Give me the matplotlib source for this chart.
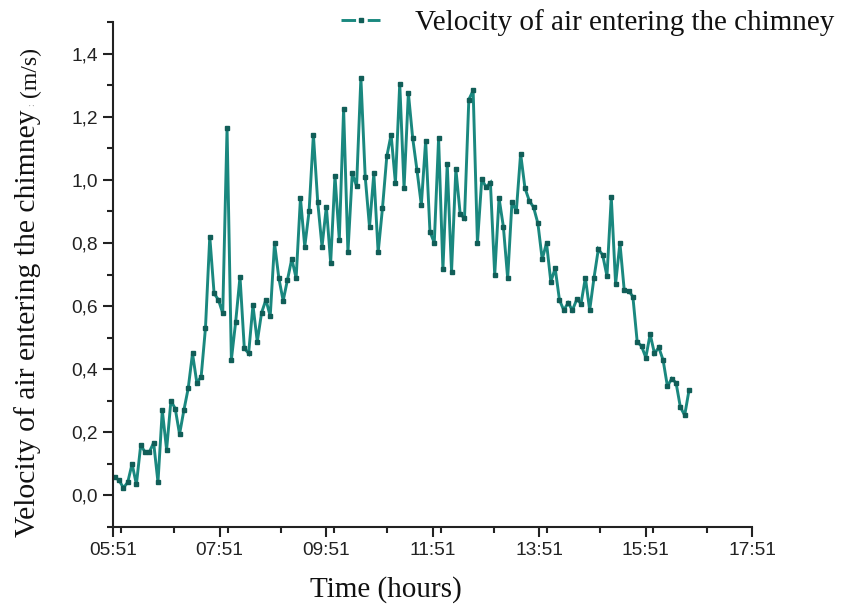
import numpy as np
import matplotlib
matplotlib.use("Agg")
import matplotlib.pyplot as plt
from matplotlib.lines import Line2D
from matplotlib.ticker import FixedLocator, MultipleLocator, FuncFormatter

# Air velocity at the chimney inlet (m/s), one reading per sample
velocity = [
    0.058, 0.048, 0.024, 0.042, 0.100, 0.035, 0.159, 0.138, 0.138, 0.167,
    0.042, 0.270, 0.145, 0.300, 0.275, 0.194, 0.270, 0.339, 0.450, 0.357,
    0.376, 0.530, 0.820, 0.640, 0.620, 0.577, 1.164, 0.430, 0.550, 0.693,
    0.466, 0.450, 0.603, 0.487, 0.579, 0.620, 0.568, 0.800, 0.688, 0.617,
    0.683, 0.750, 0.688, 0.942, 0.788, 0.900, 1.143, 0.930, 0.788, 0.915,
    0.737, 1.013, 0.810, 1.224, 0.770, 1.020, 0.980, 1.323, 1.010, 0.850,
    1.020, 0.770, 0.910, 1.074, 1.143, 0.990, 1.305, 0.974, 1.275, 1.132,
    1.030, 0.920, 1.124, 0.836, 0.800, 1.132, 0.716, 1.050, 0.709, 1.034,
    0.892, 0.878, 1.254, 1.283, 0.800, 1.002, 0.977, 0.991, 0.698, 0.942,
    0.852, 0.688, 0.931, 0.900, 1.083, 0.974, 0.934, 0.913, 0.862, 0.748,
    0.800, 0.677, 0.720, 0.619, 0.587, 0.610, 0.587, 0.621, 0.608, 0.690,
    0.587, 0.690, 0.780, 0.762, 0.695, 0.945, 0.670, 0.800, 0.650, 0.649,
    0.630, 0.487, 0.473, 0.437, 0.511, 0.450, 0.469, 0.429, 0.346, 0.370,
    0.357, 0.280, 0.254, 0.333,
]
first_reading = "05:53"
last_reading = "16:40"

x_tick_labels = ["05:51", "07:51", "09:51", "11:51", "13:51", "15:51", "17:51"]
y_tick_values = [0.0, 0.2, 0.4, 0.6, 0.8, 1.0, 1.2, 1.4]

series_label = "Velocity of air entering the chimney"
x_label = "Time (hours)"
y_label = "Velocity of air entering the chimney"
y_unit = "(m/s)"

LINE = "#1a887f"
MARK = "#115e58"
SERIF = ["Liberation Serif", "DejaVu Serif"]
SANS = ["Liberation Sans", "DejaVu Sans"]


def to_hours(hhmm):
    h, m = hhmm.split(":")
    return int(h) + int(m) / 60.0


times = np.linspace(to_hours(first_reading), to_hours(last_reading), len(velocity))
x_ticks = [to_hours(s) for s in x_tick_labels]

fig = plt.figure(figsize=(8.53, 6.09), dpi=100)
ax = fig.add_axes([0.1325, 0.1346, 0.7491, 0.8293])

ax.plot(times, velocity, color=LINE, lw=2.1, marker="s", ms=3.0,
        mfc=MARK, mec=MARK, solid_joinstyle="miter")

ax.set_xlim(x_ticks[0], x_ticks[-1])
ax.set_ylim(-0.1, 1.5)

ax.xaxis.set_major_locator(FixedLocator(x_ticks))
ax.xaxis.set_minor_locator(MultipleLocator(1.0))
ax.set_xticklabels(x_tick_labels)
ax.yaxis.set_major_locator(FixedLocator(y_tick_values))
ax.yaxis.set_minor_locator(FixedLocator(np.round(np.arange(-0.1, 1.51, 0.2), 2)))
ax.yaxis.set_major_formatter(FuncFormatter(lambda v, p: f"{v:.1f}".replace(".", ",")))

for side in ("top", "right"):
    ax.spines[side].set_visible(False)
for side in ("left", "bottom"):
    ax.spines[side].set_linewidth(1.5)
    ax.spines[side].set_color("#222222")

ax.tick_params(axis="both", which="major", direction="out", length=7, width=1.5,
               color="#222222", labelsize=13.8, pad=4)
ax.tick_params(axis="both", which="minor", direction="out", length=4, width=1.5,
               color="#222222")
for lab in ax.get_xticklabels() + ax.get_yticklabels():
    lab.set_family(SANS)
    lab.set_color("#222222")

fig.text(386 / 853, 1 - 590 / 609, x_label, family=SERIF, fontsize=21,
         ha="center", va="center", color="#111111")
fig.text(28 / 853, 1 - 537 / 609, y_label, family=SERIF, fontsize=21.3,
         rotation=90, ha="center", va="bottom", color="#111111")
fig.text(32 / 853, 1 - 106 / 609, ":", family=SERIF, fontsize=7,
         rotation=90, ha="center", va="bottom", color="#999999")
fig.text(30 / 853, 1 - 97 / 609, y_unit, family=SERIF, fontsize=17,
         rotation=90, ha="center", va="bottom", color="#111111")

handle = Line2D([], [], color=LINE, lw=2.1, marker="s", ms=3.0, mfc=MARK,
                mec=MARK, linestyle=(0, (5.0, 4.0)))
leg = fig.legend([handle], [series_label], loc="center left",
                 bbox_to_anchor=(341 / 853, 1 - 23 / 609), frameon=False,
                 handlelength=1.35, handletextpad=1.2, borderpad=0,
                 borderaxespad=0, numpoints=1, prop={"family": SERIF, "size": 21})
for txt in leg.get_texts():
    txt.set_color("#111111")

fig.savefig("out.png", dpi=100)
